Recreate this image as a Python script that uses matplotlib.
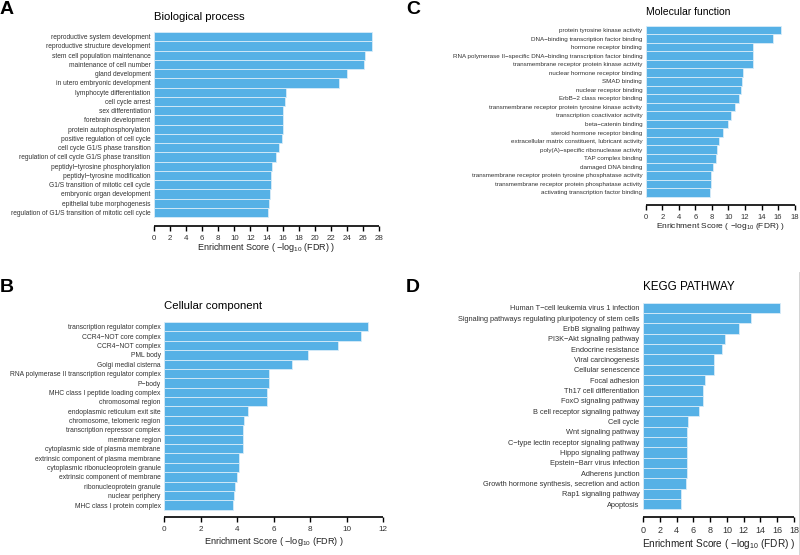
import matplotlib
matplotlib.use('Agg')
import matplotlib.pyplot as plt
from matplotlib.ticker import MultipleLocator
from matplotlib.lines import Line2D

plt.rcParams['font.family'] = ['Liberation Sans', 'DejaVu Sans']
plt.rcParams['mathtext.fontset'] = 'custom'
plt.rcParams['mathtext.rm'] = 'Liberation Sans'
plt.rcParams['mathtext.it'] = 'Liberation Sans:italic'

# ---------------- data ----------------
bp_terms = ["reproductive system development", "reproductive structure development",
            "stem cell population maintenance", "maintenance of cell number",
            "gland development", "in utero embryonic development",
            "lymphocyte differentiation", "cell cycle arrest", "sex differentiation",
            "forebrain development", "protein autophosphorylation",
            "positive regulation of cell cycle", "cell cycle G1/S phase transition",
            "regulation of cell cycle G1/S phase transition",
            "peptidyl\u2212tyrosine phosphorylation", "peptidyl\u2212tyrosine modification",
            "G1/S transition of mitotic cell cycle", "embryonic organ development",
            "epithelial tube morphogenesis",
            "regulation of G1/S transition of mitotic cell cycle"]
bp_scores = [27.07, 27.07, 26.2, 26.15, 24.0, 23.0, 16.4, 16.25, 16.1, 16.1, 16.0,
             15.95, 15.5, 15.2, 14.7, 14.55, 14.55, 14.45, 14.35, 14.2]

cc_terms = ["transcription regulator complex", "CCR4\u2212NOT core complex",
            "CCR4\u2212NOT complex", "PML body", "Golgi medial cisterna",
            "RNA polymerase II transcription regulator complex", "P\u2212body",
            "MHC class I peptide loading complex", "chromosomal region",
            "endoplasmic reticulum exit site", "chromosome, telomeric region",
            "transcription repressor complex", "membrane region",
            "cytoplasmic side of plasma membrane",
            "extrinsic component of plasma membrane",
            "cytoplasmic ribonucleoprotein granule",
            "extrinsic component of membrane", "ribonucleoprotein granule",
            "nuclear periphery", "MHC class I protein complex"]
cc_scores = [11.14, 10.78, 9.54, 7.88, 6.98, 5.76, 5.76, 5.63, 5.63, 4.61, 4.38,
             4.32, 4.32, 4.32, 4.09, 4.09, 3.99, 3.87, 3.81, 3.80]

mf_terms = ["protein tyrosine kinase activity",
            "DNA\u2212binding transcription factor binding",
            "hormone receptor binding",
            "RNA polymerase II\u2212specific DNA\u2212binding transcription factor binding",
            "transmembrane receptor protein kinase activity",
            "nuclear hormone receptor binding", "SMAD binding",
            "nuclear receptor binding", "ErbB\u22122 class receptor binding",
            "transmembrane receptor protein tyrosine kinase activity",
            "transcription coactivator activity", "beta\u2212catenin binding",
            "steroid hormone receptor binding",
            "extracellular matrix constituent, lubricant activity",
            "poly(A)\u2212specific ribonuclease activity", "TAP complex binding",
            "damaged DNA binding",
            "transmembrane receptor protein tyrosine phosphatase activity",
            "transmembrane receptor protein phosphatase activity",
            "activating transcription factor binding"]
mf_scores = [16.4, 15.4, 13.0, 13.0, 13.0, 11.75, 11.6, 11.55, 11.25, 10.76, 10.35,
             10.0, 9.3, 8.8, 8.65, 8.45, 8.1, 7.9, 7.9, 7.75]

kegg_terms = ["Human T\u2212cell leukemia virus 1 infection",
              "Signaling pathways regulating pluripotency of stem cells",
              "ErbB signaling pathway", "PI3K\u2212Akt signaling pathway",
              "Endocrine resistance", "Viral carcinogenesis", "Cellular senescence",
              "Focal adhesion", "Th17 cell differentiation", "FoxO signaling pathway",
              "B cell receptor signaling pathway", "Cell cycle", "Wnt signaling pathway",
              "C\u2212type lectin receptor signaling pathway", "Hippo signaling pathway",
              "Epstein\u2212Barr virus infection", "Adherens junction",
              "Growth hormone synthesis, secretion and action",
              "Rap1 signaling pathway", "Apoptosis"]
kegg_scores = [16.37, 12.87, 11.4, 9.78, 9.38, 8.46, 8.42, 7.44, 7.12, 7.12, 6.68,
               5.4, 5.28, 5.28, 5.28, 5.2, 5.2, 5.12, 4.49, 4.49]

XLABEL = r'Enrichment Score ( $-$log$_{10}$ (FDR) )'
BAR_COLOR = '#56B1E6'
W, H = 800, 555

fig = plt.figure(figsize=(W / 100, H / 100), dpi=100)


def panel(terms, scores, x0, x1, xmax, step, y_top, y_bot, y_axis,
          title, title_y, title_fs, ylab_fs, tick_fs, xlab_fs, xlab_y,
          letter, letter_xy):
    n = len(terms)
    ax = fig.add_axes([x0 / W, 1 - y_axis / H, (x1 - x0) / W, (y_axis - y_top) / H])
    per = (y_bot - y_top) / n
    gap = (y_axis - y_bot) / per
    ax.barh(range(n), scores, height=1.0, color=BAR_COLOR,
            edgecolor='#d8ecf8', linewidth=0.6)
    ax.set_ylim(n - 0.5 + gap, -0.5)
    ax.set_xlim(0, xmax)
    ax.xaxis.set_major_locator(MultipleLocator(step))
    ax.set_yticks(range(n))
    ax.set_yticklabels(terms, fontsize=ylab_fs, color='#333333')
    ax.tick_params(axis='y', length=0, pad=2.5)
    ax.tick_params(axis='x', length=3.5, width=1.0, pad=3.0, labelsize=tick_fs,
                   labelcolor='#333333', color='black')
    for s in ['left', 'right', 'top']:
        ax.spines[s].set_visible(False)
    ax.spines['bottom'].set_linewidth(1.2)
    ax.spines['bottom'].set_capstyle('butt')
    ax.set_facecolor('none')
    fig.text(x0 / W, 1 - title_y / H, title, ha='left', va='center',
             fontsize=title_fs, color='black')
    fig.text((x0 + x1) / 2 / W, 1 - xlab_y / H, XLABEL, ha='center', va='center',
             fontsize=xlab_fs, color='#222222')
    fig.text(letter_xy[0] / W, 1 - letter_xy[1] / H, letter, ha='left', va='center',
             fontsize=14, fontweight='bold', color='black')
    return ax


panel(bp_terms, bp_scores, 154, 379, 28, 2, 32, 217, 225.7,
      "Biological process", 17, 8.1, 4.78, 5.7, 6.5, 248, "A", (0, 10))
panel(cc_terms, cc_scores, 164, 383.3, 12, 2, 322, 509.7, 517.3,
      "Cellular component", 306, 8.2, 4.9, 5.9, 6.6, 541.7, "B", (0, 287))
panel(mf_terms, mf_scores, 645.7, 794.7, 18, 2, 25.7, 196.7, 204.7,
      "Molecular function", 11.7, 7.45, 4.5, 5.5, 6.0, 226.7, "C", (406, 10))
panel(kegg_terms, kegg_scores, 643, 794, 18, 2, 302.7, 509.3, 517.3,
      "KEGG PATHWAY", 287, 8.4, 5.35, 6.5, 7.2, 544.3, "D", (406, 288))

fig.add_artist(Line2D([799 / W, 799 / W], [1 - 272 / H, 0], color='#cccccc',
                      linewidth=0.6, transform=fig.transFigure))

fig.savefig('out.png', dpi=100)
